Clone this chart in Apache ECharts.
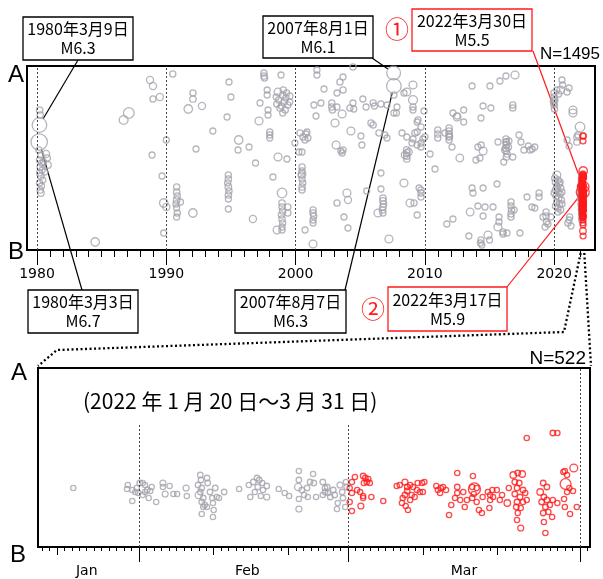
<!DOCTYPE html>
<html>
<head>
<meta charset="utf-8">
<script src="https://cdn.jsdelivr.net/npm/echarts@6/dist/echarts.min.js"></script>
<style>
  html, body { margin: 0; padding: 0; background: #fff; }
  #chart { width: 603px; height: 579px; }
</style>
</head>
<body>
<div id="chart"></div>
<script>
// [year, distance from B along A-B, magnitude]
const events1980s = [
  [1980.19, 62.5, 6.3], [1980.17, 54, 6.7],
  [1980.2, 70, 2.8], [1980.25, 67.5, 2.5], [1980.15, 50, 2.5], [1980.3, 47.5, 2.5], [1980.2, 45, 2.8],
  [1980.35, 43.5, 2.2], [1980.25, 41.5, 2.5], [1980.4, 40, 2.2], [1980.2, 38.5, 2.5], [1980.3, 37, 2.8],
  [1980.45, 35, 2.2], [1980.2, 33.5, 2.5], [1980.35, 32, 2.2], [1980.25, 30, 2.8], [1980.3, 28.5, 3.0],
  [1980.8, 46, 2.5], [1980.85, 42.5, 3.0], [1980.7, 48, 3.5], [1980.5, 44, 2.2], [1980.6, 39, 2.2],
  [1984.5, 4, 4.3], [1986.7, 65, 4.5], [1987.1, 68.5, 5.2],
  [1988.74, 85, 3.5], [1988.97, 82, 3.5], [1988.97, 75.5, 2.5], [1989.5, 76.5, 3.5],
  [1988.9, 47.5, 2.2], [1989.67, 37, 2.2], [1989.8, 23.5, 4.3], [1990.0, 21.5, 3.5], [1989.8, 8.5, 2.2]
];
const events1990s = [
  [1990.0, 55, 2.2], [1990.5, 88, 2.5],
  [1990.8, 31.5, 2.5], [1990.8, 29, 2.8], [1990.85, 27, 2.5], [1990.8, 25, 3.0], [1990.75, 23, 2.5],
  [1990.8, 21, 2.2], [1990.85, 18.5, 2.5], [1990.8, 16.5, 2.2], [1991.1, 24, 2.2],
  [1992.06, 78.5, 2.5], [1992.06, 75.5, 2.8], [1991.7, 70.5, 4.3], [1992.76, 72, 3.5],
  [1993.6, 59.5, 2.2], [1992.3, 50.5, 2.2], [1992.06, 18.5, 4.3],
  [1994.85, 84, 2.2], [1995.0, 76.5, 2.2], [1994.7, 66.5, 2.2],
  [1995.6, 55, 4.3], [1995.55, 50, 2.2], [1996.4, 51.5, 2.2],
  [1994.8, 37.5, 2.5], [1994.8, 35.5, 2.8], [1994.75, 33.5, 2.5], [1994.8, 31.5, 3.0], [1994.85, 29.5, 2.5],
  [1994.8, 27.5, 2.8], [1994.8, 25.5, 2.2], [1994.8, 20.5, 2.2],
  [1996.9, 43.5, 2.2], [1996.7, 15.5, 3.5],
  [1997.55, 88.5, 2.5], [1997.55, 87, 2.8], [1997.6, 86, 2.5], [1998.87, 87.5, 2.2],
  [1997.8, 80, 2.2], [1997.8, 77.5, 2.2], [1997.25, 73.5, 2.2], [1997.17, 64.5, 4.0],
  [1998.64, 79, 3.8], [1999.0, 77.5, 2.8], [1999.3, 78.5, 2.5], [1999.55, 77, 2.8], [1998.7, 75, 2.5],
  [1999.1, 74, 2.8], [1999.4, 72.5, 2.5], [1998.8, 71, 2.8], [1999.2, 70, 2.5], [1999.0, 68.5, 2.2],
  [1998.55, 73, 2.5], [1999.55, 74, 2.2], [1999.25, 76, 2.5], [1998.9, 72, 2.2], [1998.5, 76.5, 2.2],
  [1999.05, 80, 2.5], [1997.87, 70, 2.2], [1997.87, 67.5, 2.2],
  [1998.0, 59, 2.5], [1998.0, 57.5, 2.5], [1998.0, 56, 2.2],
  [1998.64, 46.5, 4.0], [1999.33, 45.5, 2.2], [1998.25, 36.5, 2.2], [1998.95, 28.5, 4.8],
  [1998.95, 23.5, 2.8], [1998.95, 21.5, 2.5], [1999.0, 19.5, 2.8], [1998.9, 17.5, 2.5], [1998.95, 15.5, 2.8],
  [1999.0, 13.5, 2.5], [1998.95, 11.5, 2.2], [1998.95, 10, 2.5], [1998.56, 10, 3.8], [1999.4, 21.5, 2.5],
  [1999.4, 18.5, 2.5], [1999.95, 53.5, 2.2]
];
const events2000s = [
  [2000.26, 49, 2.2], [2000.34, 58.5, 2.5], [2000.57, 56.5, 2.5], [2000.8, 58, 2.2], [2000.73, 55, 2.5],
  [2000.96, 56, 2.2], [2000.88, 59, 2.2],
  [2000.5, 41.5, 2.5], [2000.5, 39.5, 2.5], [2000.45, 37.5, 2.8], [2000.5, 35.5, 2.5], [2000.55, 33.5, 2.5],
  [2000.5, 31.5, 2.8], [2000.5, 30, 2.5], [2000.5, 38, 3.8], [2000.73, 10, 2.2],
  [2001.65, 90, 2.2], [2001.65, 87.5, 2.2], [2003.67, 86.5, 2.2], [2004.44, 91.5, 2.5],
  [2003.43, 84, 2.5], [2003.2, 78.5, 2.2], [2003.67, 80, 2.5], [2002.2, 80.5, 2.2],
  [2001.42, 72.5, 2.2], [2001.96, 73.5, 2.2],
  [2002.8, 73.5, 2.5], [2002.8, 71.5, 2.8], [2002.85, 70, 2.5], [2003.2, 71.5, 2.2], [2003.6, 68, 4.0],
  [2001.58, 67, 2.2], [2003.05, 63.5, 4.0], [2004.28, 59.5, 4.0],
  [2003.13, 52.5, 4.0], [2003.67, 50, 2.5], [2003.6, 48.5, 2.5], [2003.5, 49.5, 2.2], [2000.5, 49, 2.2],
  [2004.44, 73.5, 2.2], [2004.2, 71, 2.5], [2004.5, 70.5, 2.2],
  [2005.2, 75.5, 2.2], [2005.45, 71.5, 2.2], [2006.0, 73.5, 2.5], [2006.1, 72, 2.2], [2006.6, 73, 2.5],
  [2007.07, 72.5, 2.2], [2005.83, 63.5, 2.5], [2006.0, 62.5, 2.5],
  [2006.45, 58.5, 2.5], [2006.9, 57.5, 2.2], [2007.07, 56, 2.2], [2005.05, 57, 2.2], [2005.13, 52.5, 2.2],
  [2005.5, 29.5, 2.2],
  [2001.35, 20, 2.5], [2001.35, 18.5, 2.8], [2001.4, 17, 2.5], [2001.35, 15, 2.5], [2001.35, 13.5, 2.2],
  [2001.35, 3, 4.0], [2003.97, 28.5, 4.0], [2004.05, 25, 3.5], [2003.2, 23.5, 2.5],
  [2003.74, 16.5, 2.2], [2004.05, 11, 2.2], [2006.6, 38.5, 2.2], [2006.6, 30.5, 2.2],
  [2006.76, 26, 2.8], [2006.76, 24.5, 3.0], [2006.8, 23, 2.8], [2006.76, 21.5, 3.0], [2006.72, 20, 2.8],
  [2006.76, 18.5, 2.5], [2006.37, 18.5, 4.0], [2007.22, 5.5, 4.0],
  [2007.58, 88.5, 6.1], [2007.6, 82, 6.3],
  [2007.6, 77.5, 2.5], [2007.84, 71.5, 2.2], [2007.6, 68.5, 2.2], [2007.8, 68.5, 2.2],
  [2008.38, 78.5, 2.2], [2008.6, 79, 4.0], [2009.08, 82.5, 4.0], [2009.08, 75, 4.5], [2009.08, 71.5, 2.5],
  [2009.08, 70, 2.2], [2009.47, 65, 2.5], [2009.4, 64, 2.2], [2009.4, 59, 2.2], [2009.23, 58.5, 2.5],
  [2009.93, 69.5, 2.2], [2009.7, 61.5, 2.5], [2008.23, 58.5, 2.2], [2008.6, 56.5, 2.2], [2009.08, 55.5, 2.2],
  [2008.6, 50, 3.0], [2008.6, 48.5, 3.0], [2008.6, 47, 3.0], [2008.6, 45.5, 2.8], [2008.45, 47.5, 3.5],
  [2008.75, 49, 3.5], [2009.0, 53.5, 2.2], [2009.4, 52.5, 2.2], [2009.7, 51.5, 2.5], [2009.7, 53.5, 2.2],
  [2009.85, 55.5, 2.2], [2008.38, 33.5, 4.0],
  [2009.7, 30, 2.5], [2009.7, 28.5, 2.5], [2009.7, 26.5, 2.5], [2009.55, 31, 2.2],
  [2008.85, 23.5, 4.0], [2009.16, 23.5, 2.5], [2009.4, 17.5, 2.2]
];
const events2010s = [
  [2010.0, 56.5, 2.5], [2010.4, 48, 2.2], [2010.78, 40.5, 2.2],
  [2011.0, 60, 2.5], [2011.0, 58, 2.8], [2011.0, 56, 2.5],
  [2011.87, 61, 2.8], [2011.87, 59.5, 2.8], [2011.87, 58, 2.8], [2011.87, 56.5, 2.8], [2011.87, 55, 2.5],
  [2011.9, 57, 2.8], [2012.1, 51.5, 2.2], [2011.55, 58.5, 2.2],
  [2012.17, 68.5, 2.2], [2012.48, 66.5, 4.0], [2012.5, 67, 2.5], [2013.0, 70, 2.2], [2013.0, 64, 2.2],
  [2012.7, 46, 3.8],
  [2013.65, 82, 2.2], [2015.03, 82, 2.2], [2014.5, 72, 2.2], [2015.1, 71, 2.2], [2014.34, 66, 2.2],
  [2015.8, 84.5, 2.2], [2016.27, 87, 2.2], [2016.97, 87.5, 4.0],
  [2015.65, 54, 2.2], [2016.27, 55.5, 2.5], [2016.27, 54, 2.5], [2016.5, 54.5, 2.2],
  [2013.95, 45, 2.2], [2014.26, 46, 2.2], [2014.1, 51.5, 2.2], [2014.5, 49.5, 4.0], [2014.35, 52.5, 2.2],
  [2016.3, 54, 2.8], [2016.3, 52.5, 3.0], [2016.25, 51, 3.0], [2016.3, 49.5, 3.0], [2016.35, 48, 2.8],
  [2016.3, 46.5, 2.8], [2016.2, 50, 3.5], [2016.45, 51.5, 2.8],
  [2016.8, 72.5, 2.5], [2016.8, 71, 2.5],
  [2017.28, 57.5, 2.2], [2017.43, 54, 2.2], [2017.66, 50, 2.2], [2018.13, 50, 2.2], [2018.5, 51.5, 2.2],
  [2018.3, 50.5, 2.2], [2018.0, 52, 2.2], [2016.8, 46.5, 2.2], [2016.1, 44, 2.2],
  [2013.65, 31, 2.2], [2013.72, 28.5, 2.2], [2014.5, 31, 2.2], [2015.58, 33, 2.2],
  [2013.5, 19, 3.8], [2014.1, 22, 2.2], [2014.65, 21.5, 2.2], [2015.27, 21.5, 2.2], [2014.5, 17, 2.2],
  [2011.7, 13, 2.2], [2012.17, 15.5, 2.2],
  [2013.4, 7, 2.2], [2014.34, 5, 2.5], [2014.3, 3.5, 2.5], [2014.4, 2.5, 2.2], [2014.88, 7.5, 4.0],
  [2015.0, 5, 2.2], [2015.73, 16.5, 2.2], [2015.73, 14, 2.5], [2015.65, 11.5, 4.0], [2016.04, 9, 2.5],
  [2016.04, 8, 2.5], [2016.35, 8.5, 2.2],
  [2016.66, 24, 2.5], [2016.66, 22, 2.5], [2016.7, 20, 2.8], [2016.66, 18, 2.5], [2016.66, 16.5, 2.5],
  [2016.9, 20, 2.2], [2017.35, 8.5, 2.2], [2017.9, 26.5, 2.2], [2018.28, 21.5, 2.2],
  [2018.83, 28.5, 2.5], [2018.83, 26.5, 2.5], [2018.5, 21, 2.2], [2019.13, 16.5, 2.2],
  [2019.37, 19, 2.5], [2019.37, 17, 2.8], [2019.4, 14, 2.5], [2019.3, 11.5, 2.2],
  [2019.52, 13, 2.2], [2019.75, 16.5, 2.2]
];
const events2020s = [
  [2019.98, 78.5, 2.5], [2020.0, 76.5, 2.8], [2019.95, 74.5, 2.8], [2020.0, 72.5, 2.8], [2020.02, 70.5, 2.5],
  [2020.05, 75, 2.5], [2019.98, 73.5, 2.5],
  [2020.2, 80, 2.2], [2020.5, 80, 3.8], [2020.65, 82.5, 2.2], [2021.0, 79, 2.5], [2021.15, 81, 2.2],
  [2020.6, 85, 2.2], [2020.35, 78, 2.2],
  [2020.2, 37.5, 4.0], [2020.05, 36, 2.8], [2020.3, 35, 2.8], [2020.1, 34, 2.8], [2020.4, 33, 2.8],
  [2020.2, 32, 2.8], [2020.5, 31, 2.8], [2020.1, 30, 2.8], [2020.3, 29, 2.8], [2020.45, 28, 2.8],
  [2020.15, 27, 2.8], [2020.35, 26, 2.8], [2020.55, 25, 2.8], [2020.2, 24, 2.8], [2020.4, 23, 2.8],
  [2020.1, 22, 2.5], [2020.3, 21, 2.5], [2020.5, 20, 2.5], [2020.25, 30.5, 2.5], [2020.45, 34, 2.5],
  [2020.6, 29, 2.5], [2020.0, 28.5, 2.5], [2020.6, 23, 2.5], [2020.3, 19, 2.2],
  [2021.06, 13.5, 2.5], [2021.15, 15, 2.2], [2021.2, 16.5, 2.5], [2021.3, 12, 2.2],
  [2021.45, 70, 4.0], [2021.45, 68.5, 4.0],
  [2021.76, 56.5, 2.8], [2021.76, 54, 2.8], [2021.84, 57.5, 2.5],
  [2021.0, 55, 2.2], [2021.15, 52, 2.2], [2022.0, 61.5, 4.8]
];

// 2022 swarm: [day of 2022 (Jan 1 00:00 = 0), distance from B, magnitude]
const janFeb2022 = [
  [22.2, 29.5, 2.0], [29.5, 31, 2.0], [29.4, 29, 2.0], [30.1, 28.5, 2.0], [30.5, 27.5, 2.0],
  [30.7, 29.5, 2.0], [31.1, 32, 2.5], [31.5, 32, 2.0], [31.8, 31, 2.0], [32.1, 28.5, 2.5],
  [32.5, 28, 2.0], [32.7, 30, 2.0], [31.5, 26, 2.0], [30.1, 23, 2.0], [32.3, 24.5, 2.0],
  [33.3, 22.5, 2.0], [31.8, 27.5, 2.0], [30.9, 27, 2.0], [34.2, 32, 3.0], [34.2, 30, 2.0],
  [34.5, 26.5, 3.0], [35.1, 30.5, 2.0], [35.6, 26.5, 2.0], [36.1, 26.5, 2.0], [37.3, 29.5, 3.0],
  [37.4, 25.5, 2.0],
  [39.2, 36, 2.5], [39.3, 33.5, 2.5], [38.9, 31, 2.5], [39.4, 29.5, 2.5], [39.2, 27.5, 2.5],
  [39.0, 26, 4.0], [39.6, 24.5, 2.5], [39.4, 22.5, 2.5], [39.8, 21, 2.5], [39.6, 20, 2.0],
  [40.1, 34.5, 2.5], [40.2, 32, 2.5], [40.5, 27.5, 2.5], [40.8, 24.5, 2.0], [41.2, 29.5, 2.5],
  [41.4, 25, 2.0], [41.7, 24.5, 2.0], [42.4, 27.5, 2.5], [40.9, 22, 2.0], [41.0, 18.5, 2.0],
  [40.9, 15, 2.0], [39.4, 16.5, 2.0], [40.1, 20, 2.0],
  [44.4, 29, 2.0], [45.7, 31, 2.0], [46.3, 32.5, 2.5], [46.8, 34.5, 2.5], [47.1, 33.5, 2.5],
  [46.9, 30, 2.5], [47.6, 28.5, 2.0], [48.1, 30.5, 2.5], [48.1, 25, 3.0], [47.3, 25.5, 2.0],
  [45.9, 25, 2.0], [46.5, 27.5, 2.0], [47.5, 32, 2.0],
  [49.7, 29, 2.0], [50.5, 27, 2.0], [51.1, 25.5, 2.0],
  [52.4, 38, 2.0], [52.4, 33.5, 2.5], [52.3, 30, 4.0], [52.8, 28.5, 2.5], [53.1, 26, 2.0],
  [53.5, 29.5, 2.5], [53.9, 32.5, 2.5], [54.3, 36.5, 2.0], [54.4, 32, 2.5], [54.7, 25, 2.0],
  [53.6, 25, 2.0], [52.4, 24, 2.0], [52.4, 19, 3.0], [55.6, 32.5, 2.5], [55.9, 29.5, 2.5],
  [56.3, 27, 2.0], [56.2, 30, 2.5], [55.9, 27.5, 2.5], [57.0, 28.5, 2.5], [57.2, 26, 2.5],
  [57.9, 31, 3.0], [58.2, 27.5, 2.5], [58.3, 24.5, 2.5], [57.6, 22, 2.0], [58.6, 20, 2.0],
  [56.6, 25, 2.5], [55.6, 26, 2.0], [58.8, 30, 2.5], [58.7, 32.5, 2.0], [57.5, 19, 2.0]
];
const mar2022 = [
  [59.5, 32.5, 2.0], [59.9, 35, 2.0], [59.2, 29.5, 2.0], [59.5, 27, 2.0], [59.2, 22.5, 2.0],
  [59.5, 18, 2.0], [60.2, 28.5, 2.0], [60.6, 27.5, 2.0], [61.0, 25.5, 2.0], [60.7, 20.5, 3.0],
  [61.0, 35.5, 2.5], [61.3, 34.5, 2.5], [61.5, 32.5, 2.5], [61.1, 32, 2.0], [61.7, 34, 2.0],
  [61.9, 32, 2.0], [61.0, 24.5, 2.0], [62.1, 25, 2.0], [63.7, 23, 2.0],
  [65.5, 30.5, 2.0], [65.9, 31, 2.0], [66.6, 32.5, 3.0], [66.9, 30, 2.5], [66.9, 28, 2.5],
  [66.6, 26, 2.5], [66.3, 24.5, 2.0], [66.2, 22, 2.0], [66.7, 20.5, 2.0], [67.0, 18.5, 2.0],
  [67.3, 23.5, 2.0], [67.5, 26, 2.0], [67.7, 30, 2.0], [68.2, 28.5, 2.0], [68.3, 32, 2.0],
  [68.9, 32, 2.0], [69.2, 32.5, 2.0], [68.6, 27.5, 2.0], [67.9, 25, 2.0], [69.0, 27.5, 2.0],
  [67.3, 31, 2.0],
  [70.8, 30.5, 2.0], [71.0, 28.5, 2.0], [71.4, 29.5, 2.0], [71.7, 30, 2.0], [72.1, 28.5, 2.0],
  [71.3, 27, 2.0],
  [73.6, 37, 2.0], [73.6, 30, 2.5], [73.6, 27, 2.0], [73.3, 24.5, 2.0], [74.0, 23.5, 2.0],
  [72.8, 21, 2.0], [72.5, 16, 2.0], [74.4, 27.5, 2.0], [74.6, 20, 2.0], [74.9, 23.5, 2.0],
  [75.7, 35.5, 2.0], [75.9, 29, 5.9], [75.6, 30, 2.0], [76.2, 29.5, 2.0], [75.8, 26.5, 2.0],
  [75.6, 24.5, 2.0], [76.2, 22.5, 2.0], [76.5, 18.5, 2.0], [76.9, 17, 2.0], [77.0, 25, 2.0],
  [77.7, 27.5, 2.0], [78.0, 26, 2.0], [78.4, 25, 2.0], [78.3, 28.5, 2.0], [78.0, 23.5, 2.0],
  [77.9, 19.5, 2.0], [78.9, 28.5, 2.0], [79.6, 26, 2.0], [79.3, 23.5, 2.0], [80.3, 22, 3.5],
  [80.5, 29.5, 2.0],
  [81.1, 36, 3.5], [81.7, 37, 2.5], [82.3, 36.5, 3.5], [81.3, 32.5, 2.5], [81.9, 32, 2.5],
  [81.6, 29.5, 2.5], [82.4, 28.5, 2.5], [81.3, 26.5, 2.5], [82.0, 25, 2.5], [81.6, 22.5, 2.5],
  [82.4, 22.5, 2.0], [81.5, 20, 2.5], [82.1, 19.5, 2.0], [81.7, 17, 2.0], [81.6, 13.5, 2.0],
  [82.1, 9.5, 3.0], [82.7, 27, 2.0], [82.9, 23.5, 2.0],
  [84.7, 27.5, 3.5], [85.1, 32, 2.5], [85.6, 30, 2.5], [85.2, 25, 2.5], [84.9, 22.5, 2.5],
  [85.6, 23.5, 2.5], [85.4, 20, 2.5], [85.1, 17, 2.5], [85.8, 17.5, 2.0], [86.3, 15, 2.0],
  [85.2, 12.5, 2.0], [85.4, 7, 2.0], [86.0, 21, 2.0], [86.4, 23.5, 2.0], [87.0, 22, 2.0],
  [82.9, 54.5, 2.0], [86.4, 57, 2.5], [87.0, 57, 2.0],
  [87.8, 37.5, 2.0], [88.0, 38, 2.0], [88.3, 36, 2.0], [88.1, 31.5, 5.5], [88.3, 27.5, 2.0],
  [88.6, 29.5, 2.0], [89.1, 28, 2.0], [87.9, 24, 2.0], [88.0, 20, 2.0], [88.7, 16.5, 2.0],
  [89.2, 39.5, 4.3], [89.6, 20, 2.0]
];

const decadeLabels = [1980, 1990, 2000, 2010, 2020];
const yearTicks = [1980, 1981, 1982, 1983, 1984, 1985, 1986, 1987, 1988, 1989, 1990, 1991, 1992, 1993,
  1994, 1995, 1996, 1997, 1998, 1999, 2000, 2001, 2002, 2003, 2004, 2005, 2006, 2007, 2008, 2009, 2010,
  2011, 2012, 2013, 2014, 2015, 2016, 2017, 2018, 2019, 2020, 2021, 2022];
const monthNames = ['Jan', 'Feb', 'Mar'];
const monthLabelDays = [24, 45.5, 74.5];
const monthStartDays = [31, 59, 90];
const tenDayTicks = [20, 41, 51, 69, 79];

// callout texts and the event each points at: [x, distance, magnitude]
const callouts = [
  { text: '1980年3月9日\nM6.3', event: [1980.19, 62.5, 6.3], red: false },
  { text: '1980年3月3日\nM6.7', event: [1980.17, 54, 6.7], red: false },
  { text: '2007年8月1日\nM6.1', event: [2007.58, 88.5, 6.1], red: false },
  { text: '2007年8月7日\nM6.3', event: [2007.6, 82, 6.3], red: false },
  { text: '2022年3月30日\nM5.5', event: [88.1, 31.5, 5.5], red: true },
  { text: '2022年3月17日\nM5.9', event: [75.9, 29, 5.9], red: true }
];

// ---- layout ----
const boxLayout = [
  { x: 23, y: 17, w: 110, h: 43, ax: 78, ay: 60 },
  { x: 28, y: 290, w: 110, h: 43, ax: 82, ay: 290 },
  { x: 263, y: 16, w: 110, h: 42, ax: 372, ay: 58 },
  { x: 235, y: 290, w: 111, h: 43, ax: 345, ay: 290 },
  { x: 412, y: 9, w: 120, h: 42, ax: 533, ay: 51, mark: '①', mx: 397, my: 29 },
  { x: 388, y: 287, w: 119, h: 44, ax: 507, ay: 287, mark: '②', mx: 373, my: 309 }
];

const GRAY = '#a2a2ac';
const RED = '#ff1a1a';
const CJK = '"Noto Sans CJK JP", sans-serif';
const topSize = m => 5.6 + 0.036 * m * m * m;
const botSize = m => 5.0 + 0.035 * m * m * m;
const dayToYear = d => [2022 + d[0] / 365, d[1], d[2]];

const topGray = [].concat(events1980s, events1990s, events2000s, events2010s, events2020s,
  janFeb2022.map(dayToYear));
const topRed = mar2022.map(dayToYear);

const chart = echarts.init(document.getElementById('chart'));

function tickAxis(gridIndex, min, max, values, len, labels, fmt) {
  return {
    type: 'value', gridIndex, min, max, position: 'bottom',
    axisLine: { show: !!labels, lineStyle: { color: '#000', width: 1.5 } },
    axisTick: { show: true, customValues: values, length: len, lineStyle: { color: '#000', width: 1 } },
    axisLabel: labels ? {
      show: true, customValues: labels, formatter: fmt, margin: 17,
      color: '#000', fontSize: 14, fontFamily: 'DejaVu Sans'
    } : { show: false },
    splitLine: { show: false }
  };
}

const circleStyle = c => ({ color: 'rgba(0,0,0,0)', borderColor: c, borderWidth: 1.3 });

const option = {
  animation: false,
  grid: [
    { left: 27, top: 66, width: 568, height: 184, show: true, borderColor: '#000', borderWidth: 2 },
    { left: 38, top: 368, width: 552, height: 179, show: true, borderColor: '#000', borderWidth: 2 }
  ],
  xAxis: [
    tickAxis(0, 1979.227, 2023.156, yearTicks, 7, decadeLabels, v => String(v)),
    tickAxis(0, 1979.227, 2023.156, decadeLabels, 15, null),
    tickAxis(1, 17.48, 91.37, Array.from({ length: 74 }, (_, i) => 18 + i), 4, monthLabelDays,
      v => monthNames[monthLabelDays.indexOf(v)]),
    tickAxis(1, 17.48, 91.37, tenDayTicks, 8, null),
    tickAxis(1, 17.48, 91.37, monthStartDays, 15, null)
  ],
  yAxis: [
    { type: 'value', gridIndex: 0, min: 0, max: 92, show: false },
    { type: 'value', gridIndex: 1, min: 0, max: 89.5, show: false }
  ],
  series: [
    {
      type: 'scatter', xAxisIndex: 0, yAxisIndex: 0, data: topGray, silent: true,
      symbolSize: d => topSize(d[2]), itemStyle: circleStyle(GRAY),
      markLine: {
        silent: true, symbol: ['none', 'none'], label: { show: false },
        lineStyle: { color: '#444', width: 1, type: [2, 2] },
        data: decadeLabels.map(v => ({ xAxis: v }))
      }
    },
    {
      type: 'scatter', xAxisIndex: 0, yAxisIndex: 0, data: topRed, silent: true,
      symbolSize: d => topSize(d[2]), itemStyle: circleStyle(RED)
    },
    {
      type: 'scatter', xAxisIndex: 2, yAxisIndex: 1, data: janFeb2022, silent: true,
      symbolSize: d => botSize(d[2]), itemStyle: circleStyle(GRAY),
      markLine: {
        silent: true, symbol: ['none', 'none'], label: { show: false },
        lineStyle: { color: '#444', width: 1, type: [2, 2] },
        data: monthStartDays.map((d, i) => [
          { coord: [d, 0] }, { coord: [d, i === 2 ? 89.5 : 61.5] }
        ])
      }
    },
    {
      type: 'scatter', xAxisIndex: 2, yAxisIndex: 1, data: mar2022, silent: true,
      symbolSize: d => botSize(d[2]), itemStyle: circleStyle(RED)
    }
  ]
};
chart.setOption(option);

// ---- annotations ----
const g = [];
const txt = (text, x, y, font, fill, align) => ({
  type: 'text', silent: true,
  style: { text, x, y, font, fill: fill || '#000', textAlign: align || 'center', textVerticalAlign: 'middle' }
});

callouts.forEach((c, i) => {
  const b = boxLayout[i];
  const col = c.red ? RED : '#000';
  const ev = c.red ? dayToYear(c.event) : c.event;
  const p = chart.convertToPixel({ seriesIndex: 0 }, [ev[0], ev[1]]);
  const r = topSize(ev[2]) / 2;
  const dx = b.ax - p[0], dy = b.ay - p[1];
  const L = Math.sqrt(dx * dx + dy * dy);
  g.push({
    type: 'line', silent: true,
    shape: { x1: b.ax, y1: b.ay, x2: p[0] + dx / L * r, y2: p[1] + dy / L * r },
    style: { stroke: col, lineWidth: 1.2 }
  });
  g.push({
    type: 'rect', silent: true, shape: { x: b.x, y: b.y, width: b.w, height: b.h },
    style: { fill: '#fff', stroke: col, lineWidth: 1.3 }
  });
  g.push({
    type: 'text', silent: true,
    style: {
      text: c.text, x: b.x + b.w / 2, y: b.y + b.h / 2, font: '16px ' + CJK, fill: '#000',
      textAlign: 'center', textVerticalAlign: 'middle', lineHeight: 19
    }
  });
  if (b.mark) g.push(txt(b.mark, b.mx, b.my, '24px ' + CJK, RED));
});

// zoom connector lines between the two panels
const zl = chart.convertToPixel({ seriesIndex: 0 }, [2022 + 17.48 / 365, 0]);
const zr = chart.convertToPixel({ seriesIndex: 0 }, [2022 + 91.37 / 365, 0]);
const dotted = { stroke: '#000', lineWidth: 2.3, lineDash: [2, 2.5], fill: null };
g.push({ type: 'polyline', silent: true, shape: { points: [[zl[0], zl[1] + 3], [564, 332], [57, 350], [38, 366]] }, style: dotted });
g.push({ type: 'polyline', silent: true, shape: { points: [[zr[0] + 1, zr[1] + 3], [591, 366]] }, style: dotted });

g.push(txt('A', 16, 75, '24px "Liberation Sans"'));
g.push(txt('B', 16, 252, '24px "Liberation Sans"'));
g.push(txt('A', 19, 373, '24px "Liberation Sans"'));
g.push(txt('B', 18, 555, '24px "Liberation Sans"'));
g.push(txt('N=1495', 600, 54, '17px "Liberation Sans"', '#000', 'right'));
g.push(txt('N=522', 586, 359, '19px "Liberation Sans"', '#000', 'right'));
g.push(txt('(2022 年 1 月 20 日～3 月 31 日)', 83, 401, '21px ' + CJK, '#000', 'left'));

chart.setOption({ graphic: g });
</script>
</body>
</html>
